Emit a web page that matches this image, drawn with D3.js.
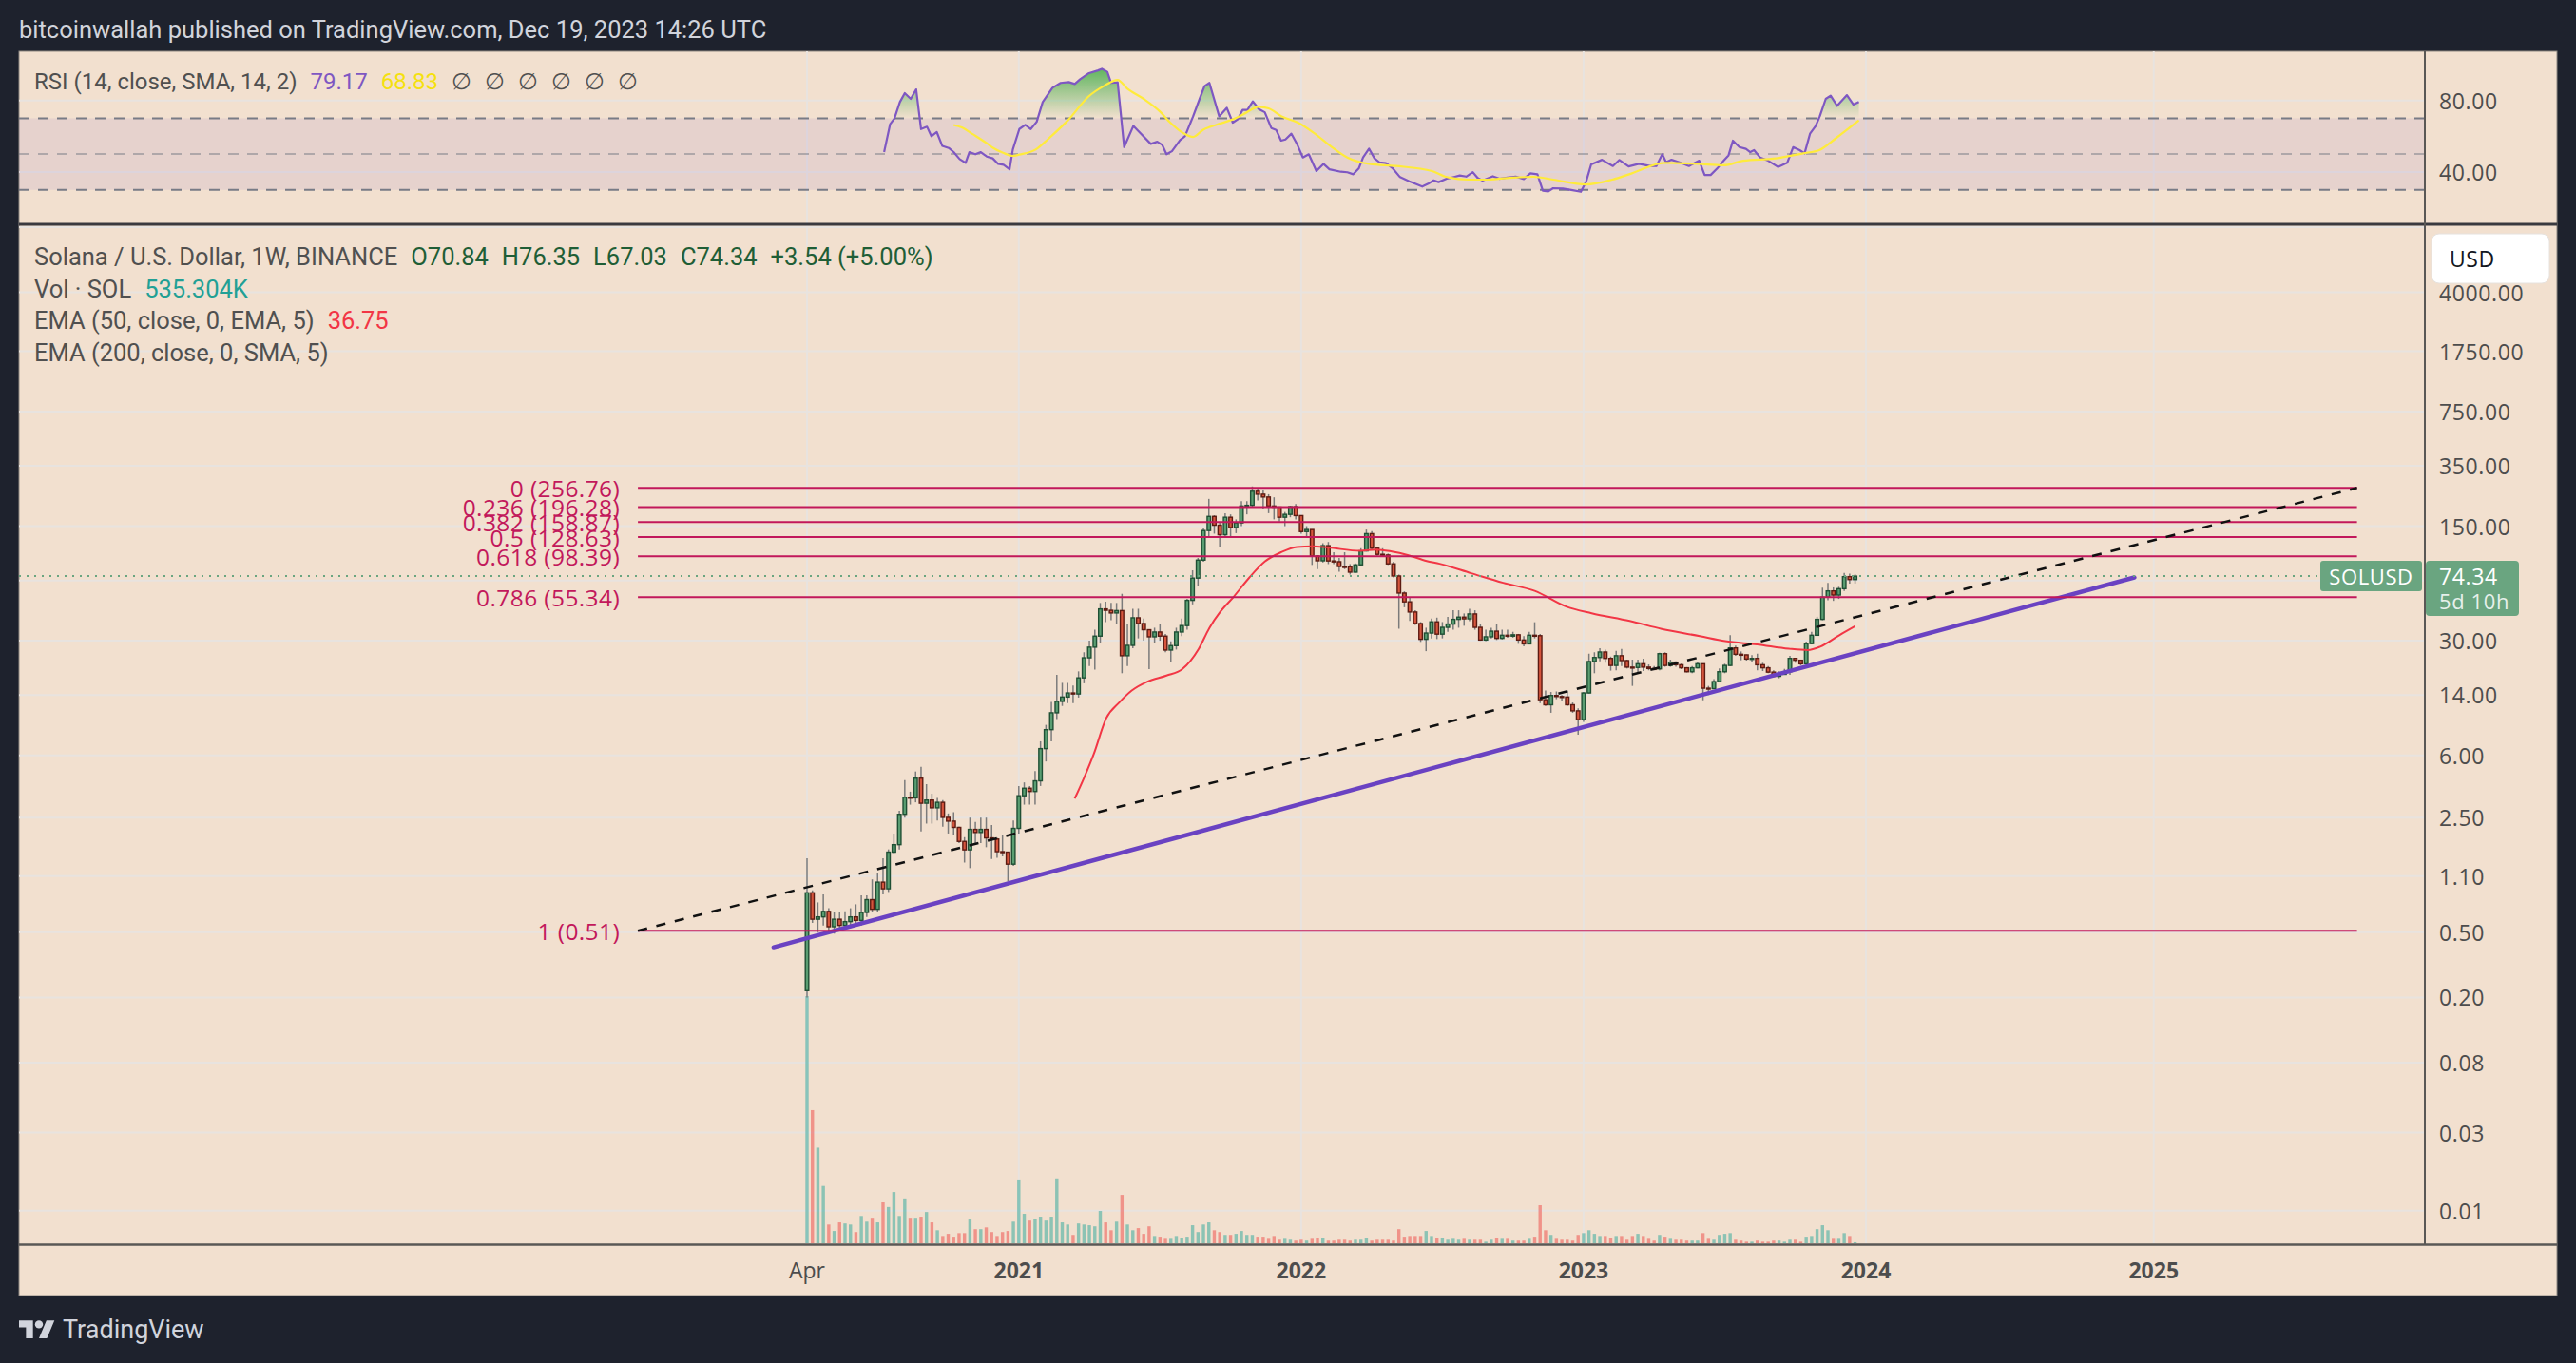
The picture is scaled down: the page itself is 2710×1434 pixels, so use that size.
<!DOCTYPE html>
<html>
<head>
<meta charset="utf-8">
<script src="https://cdn.jsdelivr.net/npm/d3@7"></script>
<style>
  html, body { margin: 0; padding: 0; background: #1e222d; }
  svg { display: block; }
</style>
</head>
<body>
<svg id="chart" width="2710" height="1434"></svg>
<script>
// ---- data (Binance) ----
// first weekly bar opens on 2020-04-06, one value per week after that
const firstBarDate = "2020-04-06";
const firstOpen = 0.22;

const closes = [0.87,0.60,0.62,0.67,0.54,0.60,0.55,0.58,0.62,0.59,0.66,0.79,0.69,1.01,0.92,1.54,1.71,2.62,3.33,3.30,
  4.35,3.06,3.20,2.87,3.10,2.51,2.38,2.18,1.79,1.59,2.12,2.03,2.12,1.88,1.85,1.55,1.54,1.30,2.15,3.40,
  3.78,3.61,4.19,6.59,8.60,10.9,12.8,13.6,14.4,14.2,17.8,23.6,27.4,32.0,46.9,46.0,44.3,45.8,24.3,28.1,
  41.4,38.2,35.0,31.7,33.9,32.0,26.3,28.0,33.9,37.1,52.9,72.3,93.1,141,172,152,133,170,147,157,
  199,201,245,235,226,199,196,170,177,197,174,139,143,98.6,92.2,114,92,91,85.1,84.8,
  78.6,87.1,106,135,110,101,100,88.3,74.5,58.6,51.8,44.9,38.2,30.6,33.4,39.1,32.9,36.2,37.9,40.5,
  41.8,40.8,43.7,36.2,30.3,31.7,34.3,31.0,32.4,32.0,32.6,30.3,28.7,32.4,32.2,13.1,12.2,13.9,13.7,13.6,
  12.2,11.2,9.9,14.4,22.4,23.7,25.6,23.4,21.2,24.3,22.7,20.7,20.6,21.7,20.7,20.3,20.2,25.0,21.2,22.2,
  21.4,20.5,19.4,20.5,21.7,15.4,15.3,16.9,19.4,21.2,27.1,24.8,24.6,23.2,23.4,21.4,20.5,19.3,18.2,18.7,
  19.4,23.4,22.8,21.7,28.8,32.4,40.5,55.3,60.4,57.0,62.3,73.8,70.84,74.34];

const highs = [1.41,0.90,0.76,0.85,0.70,0.66,0.66,0.67,0.70,0.74,0.84,0.84,1.05,1.15,1.41,1.60,2.00,2.75,4.24,3.60,
  4.78,5.10,4.00,3.50,3.30,3.20,2.65,2.70,2.20,1.90,2.50,2.35,2.50,2.50,2.25,1.88,1.95,1.55,2.40,3.90,
  4.10,3.90,4.80,7.30,9.20,12.7,18.6,16.6,16.6,16.0,19.5,25.5,30,35,51,52,51,51,58,38,
  47,47,41,35,36,38,33,29.7,36,41,54,80.7,96,147,220,175,160,180,177,165,
  213,213,262,258,250,235,225,195,183,200,205,175,150,143,100,118,120,104,96,104,
  88,89,110,143,140,112,110,102,91,76,60,55,46,39,36,41,41.5,39,42,46,
  46,44,47,46,38,35,36,38,35,35,34,33,32,34,38.9,33,14.9,14.6,14.7,14.0,
  14.9,12.6,11.6,14.6,25,25.5,27,26.5,24,26,26.7,23,23,23,23.3,21.5,21,25.3,25.5,23,
  22.5,21.7,20.7,21,22.3,21.7,15.9,17.5,20.3,21.7,32.4,28,25.8,24.7,24.5,25,22,21,19.8,19.5,
  20.2,24.3,23.6,23,29.6,34,42,63.2,67.6,63.5,64,77.8,77,76.35];

const lows = [0.20,0.57,0.50,0.55,0.49,0.49,0.52,0.52,0.53,0.54,0.55,0.62,0.66,0.66,0.85,0.88,1.50,1.60,2.50,3.00,
  3.10,2.06,2.30,2.30,2.40,2.20,2.00,1.95,1.75,1.33,1.23,1.75,1.75,1.65,1.40,1.42,1.45,1.02,1.27,2.00,
  3.00,3.00,3.00,3.90,5.50,7.30,10.0,12.0,12.5,12.5,13.5,16.5,21,20,29,39,40,38,19.0,21,
  27,31,30,20.1,29,30,25.5,22.2,26.5,32,35,50,65,91,127,135,112,128,128,136,
  150,177,196,215,190,180,165,160,150,170,165,135,128,87,82,90,88,88,79,82,
  76,78,86,105,107,99,98,87,73,35.5,48,39.6,37.5,29.5,25.9,31,30.7,31,34,35,
  36,37,39.5,35,30,29.8,31,30.3,30.5,31.3,31.3,28.7,27.7,28.5,31,12.5,12.0,10.9,13.2,12.9,
  12.0,10.9,8.0,9.6,14.3,19,22.5,22,19.7,19.8,21,20.3,15.9,18.8,19.6,19.8,19.8,19.8,20.8,20.8,
  20.8,20.1,19.2,19,20.3,13.0,14.0,15.2,16.7,19,21,24.3,22.8,22.7,22.3,19.8,19.6,19,18,17.7,
  18.6,18.6,22,21.2,21.4,28.5,33,40,53,52.5,54,60.4,67,67.03];

// weekly volume, millions of SOL
const volumes = [69.4,37.5,27.0,16.3,5.5,3.7,6.1,5.8,5.5,3.4,7.9,6.3,7.4,6.1,11.7,10.4,14.6,7.9,12.8,7.4,
  7.4,7.7,9.0,6.1,3.9,2.3,2.9,2.1,3.1,3.1,6.9,4.2,4.2,4.7,3.4,2.3,3.4,3.7,6.3,18.1,
  8.5,6.6,7.1,7.7,6.6,7.7,18.4,6.1,5.5,2.6,5.8,5.5,5.3,5.0,9.3,6.1,3.9,6.3,13.8,5.5,
  3.9,4.5,2.9,5.0,2.3,2.1,1.5,1.5,2.3,1.8,2.1,5.3,3.4,5.5,6.1,3.9,3.4,2.6,2.6,2.9,
  3.7,2.6,2.6,2.1,2.1,1.5,2.3,1.25,1.5,1.25,1.0,1.25,1.0,1.5,1.8,1.8,1.0,1.0,1.25,1.25,
  1.0,1.25,1.25,1.8,1.0,1.25,1.25,1.25,1.0,4.2,2.1,2.3,2.3,2.3,3.7,2.3,1.8,1.8,1.25,1.5,
  1.25,1.5,1.25,1.25,1.25,0.7,1.25,1.8,1.5,1.5,1.0,1.0,1.0,1.5,2.1,10.9,3.9,2.6,1.5,1.25,
  1.25,1.0,2.6,3.1,3.9,2.9,2.3,2.3,1.8,2.3,2.3,1.25,2.3,2.9,2.3,1.5,1.0,2.6,2.1,1.5,
  1.25,1.25,1.0,1.0,1.0,3.1,1.5,1.25,2.6,2.9,3.1,1.25,1.0,0.7,0.7,1.0,0.7,0.7,1.0,1.0,
  0.7,1.25,1.25,0.7,2.1,2.3,4.2,5.3,3.9,1.5,1.5,3.1,2.3,0.535];

// EMA 50: [week number, value]
const emaPoints = [[50.3,3.27],[52,4.36],[53.8,6.1],[56.1,10.1],[58.5,12.6],[60.8,14.9],[63.7,16.9],[67.2,18.4],
  [70.1,20.1],[73.1,26.6],[75.1,35.9],[77.1,45],[79.5,55.3],[82.4,72.5],[85.3,91.2],[88.3,104],[91.2,112],
  [94.1,113],[97,111],[102.9,106],[105.8,108],[108.7,105],[111.6,100],[115.1,92],[117.5,88.4],[123.3,77.4],
  [129.2,67.7],[135,60.4],[140.9,48.3],[145.5,44.1],[152.5,39.6],[158.4,35.4],[165.4,32],[170.1,29.8],
  [175.9,28.5],[181.8,26.8],[185.3,26.3],[187.6,27.6],[191.1,32.4],[194,36.75]];

// RSI 14 and its SMA 14: [week number, value]
const rsiPoints = [[15.2,51.1],[16.3,66.7],[17.1,69.9],[18.1,79.1],[19.0,84.1],[20.1,80.9],[21.1,86.2],[22.0,64.0],
  [23.1,65.3],[23.9,60.0],[24.9,62.3],[25.9,54.6],[27.1,53.4],[28.0,51.1],[29.1,47.2],[30.2,45.1],[30.9,51.1],
  [32.0,49.9],[33.0,51.1],[34.1,48.6],[35.2,47.6],[36.2,44.5],[37.2,44.0],[38.3,41.5],[38.9,52.5],[40.1,64.0],
  [41.2,66.3],[42.2,64.0],[43.3,68.1],[44.4,79.1],[46.2,87.1],[47.7,89.8],[49.2,90.3],[50.3,89.2],[51.3,91.9],
  [52.8,95.1],[54.6,96.8],[55.3,97.7],[56.3,96.0],[57.0,89.8],[58.2,90.1],[59.4,53.9],[61.1,65.8],[62.5,61.4],
  [64.3,55.7],[65.5,56.9],[66.4,55.2],[67.2,49.9],[68.2,51.6],[69.7,57.8],[70.6,60.0],[72.1,71.1],[73.3,80.9],
  [74.2,88.0],[75.1,89.8],[76.9,71.1],[78.3,75.9],[79.4,67.6],[80.3,69.4],[81.2,74.7],[82.1,74.7],[83.1,79.5],
  [84.2,75.2],[85.3,73.4],[86.5,64.6],[87.4,63.5],[88.3,57.5],[89.1,58.2],[90.2,61.4],[91.3,55.2],[92.3,48.1],
  [93.4,49.9],[94.8,40.5],[96.1,44.5],[97.2,41.5],[99.3,40.1],[100.5,39.8],[101.6,38.7],[102.6,41.9],[103.4,48.1],
  [104.5,53.0],[105.5,47.6],[106.4,45.4],[107.6,44.9],[108.8,42.2],[110.2,37.1],[111.9,34.8],[114.3,31.8],
  [115.4,33.4],[116.4,35.3],[117.3,34.3],[118.8,36.2],[120.3,37.3],[121.2,38.0],[122.4,37.4],[123.6,39.9],
  [124.5,36.6],[125.4,35.1],[127.3,37.6],[128.5,36.2],[130.0,36.9],[131.5,37.4],[133.0,36.0],[134.2,39.2],
  [135.5,38.7],[136.5,29.5],[137.5,29.1],[138.4,30.9],[140.2,30.7],[142.0,29.8],[143.5,28.9],[144.5,34.8],
  [145.4,44.2],[147.4,46.8],[149.4,43.3],[150.6,46.7],[152.3,43.1],[154.2,44.5],[156.2,43.3],[157.4,43.3],
  [158.5,49.9],[159.2,45.4],[160.2,46.8],[161.9,45.1],[163.4,43.3],[165.3,46.3],[166.3,38.3],[167.4,38.3],
  [168.6,41.9],[169.8,46.3],[170.7,49.3],[171.5,57.5],[172.7,53.9],[173.9,52.9],[174.7,51.1],[175.4,52.2],
  [176.5,48.1],[178.0,46.3],[179.8,42.8],[181.5,45.1],[182.6,53.9],[183.8,52.2],[184.7,50.4],[185.7,61.4],
  [186.7,65.5],[187.5,71.1],[188.6,80.9],[189.5,82.7],[190.7,77.0],[192.5,83.0],[193.7,77.7],[194.7,79.17]];

const rsiMaPoints = [[28.0,66.3],[29.5,64.9],[31.6,61.0],[34.1,56.1],[35.3,53.4],[37.1,50.7],[38.9,49.0],[40.1,49.7],
  [43.1,52.5],[45.5,58.7],[49.2,69.4],[52.8,82.1],[55.8,88.3],[58.2,91.5],[60.0,86.6],[63.0,80.9],[66.0,73.8],
  [67.9,67.6],[70.3,61.7],[72.1,59.6],[73.9,63.5],[76.3,66.3],[79.4,69.4],[81.2,72.0],[84.2,76.5],[86.0,75.6],
  [88.4,71.1],[91.4,67.6],[94.4,61.7],[97.5,54.3],[100.5,48.1],[104.5,44.5],[109.4,43.3],[116.1,40.5],
  [118.5,37.4],[122.7,35.7],[125.7,35.7],[130.0,36.6],[134.8,37.3],[138.4,35.7],[144.5,33.0],[149.3,35.7],
  [152.9,39.2],[158.9,45.1],[165.0,44.5],[169.8,43.7],[173.4,46.3],[179.4,47.6],[184.4,50.4],[187.4,52.2],
  [190.4,58.7],[194.7,68.83]];

// fib retracement drawn between these two anchors
const fibLevels = [0, 0.236, 0.382, 0.5, 0.618, 0.786, 1];
const fibPrices = [256.76, 196.28, 158.87, 128.63, 98.39, 55.34, 0.51];
const fibAnchors = [["2019-09-01", 0.51], ["2025-09-25", 256.76]];
const trendLine = [["2020-02-23", 0.405], ["2024-12-12", 73]];

const priceTicks = [4000, 1750, 750, 350, 150, 70, 30, 14, 6, 2.5, 1.1, 0.5, 0.2, 0.08, 0.03, 0.01];
const rsiTicks = [80, 40];
const rsiBands = [70, 50, 30];
const timeTicks = [["2020-04-06", "Apr"], ["2021-01-04", "2021"], ["2022-01-03", "2022"],
  ["2023-01-02", "2023"], ["2024-01-01", "2024"], ["2025-01-06", "2025"]];

const lastPrice = 74.34;

// ---- layout ----
const config = {
  left: 20, right: 2690, top: 54, bottom: 1363,
  plotRight: 2551,
  rsiTop: 54, rsiBottom: 235,
  mainTop: 237, mainBottom: 1308
};

const colors = {
  bg: "#1e222d", panel: "#f2e0cf", grid: "#e8e3df",
  upFill: "#5a9e72", upLine: "#1f4f34", downFill: "#d6553d", downLine: "#5c1b12", wick: "#7b7b7b",
  volUp: "rgba(38,166,154,0.5)", volDown: "rgba(239,83,80,0.55)",
  fib: "#c2185b", ema: "#f23645", trend: "#6a42c2", rsi: "#7e57c2", rsiMa: "#ffeb3b",
  label: "#6aa580", text: "#505050", axisText: "#4d4d4d"
};

const axisFont = "'Open Sans', 'DejaVu Sans', sans-serif";
const legendFont = "Roboto, 'Noto Sans', sans-serif";

const svg = d3.select("#chart");
const defs = svg.append("defs");

const parse = d3.utcParse("%Y-%m-%d");
const firstMs = parse(firstBarDate).getTime();
function weekDate(n) { return new Date(firstMs + (n - 1) * 7 * 864e5); }

// bar positions line up with the time axis labels
let x = d3.scaleUtc()
  .domain([parse("2020-04-06"), parse("2024-01-01")])
  .range([849, 1963]);

let y = d3.scaleLog().domain([0.01, 4000]).range([1273.8, 307.6]);
let rsiY = d3.scaleLinear().domain([30, 80]).range([199.7, 105.7]);
let volY = d3.scaleLinear().domain([0, d3.max(volumes)]).range([config.mainBottom + 1, 1048]);

let bars = closes.map((c, i) => ({
  date: weekDate(i + 1),
  open: i ? closes[i - 1] : firstOpen,
  high: highs[i],
  low: lows[i],
  close: c,
  volume: volumes[i]
}));

// ---- background and frame ----
svg.append("rect").attr("width", 2710).attr("height", 1434).attr("fill", colors.bg);
svg.append("rect")
  .attr("x", config.left).attr("y", config.top)
  .attr("width", config.right - config.left).attr("height", config.bottom - config.top)
  .attr("fill", colors.panel).attr("stroke", "#8d8882").attr("stroke-width", 1);

svg.append("text")
  .attr("x", 20).attr("y", 31)
  .attr("dominant-baseline", "central")
  .attr("font-family", legendFont).attr("font-size", 25.5)
  .attr("fill", "#d1d4dc")
  .text("bitcoinwallah published on TradingView.com, Dec 19, 2023 14:26 UTC");

function addClip(id, x0, y0, x1, y1) {
  defs.append("clipPath").attr("id", id).append("rect")
    .attr("x", x0).attr("y", y0).attr("width", x1 - x0).attr("height", y1 - y0);
}
addClip("clipMain", config.left, config.mainTop, config.plotRight, config.mainBottom);
addClip("clipRsi", config.left, config.rsiTop, config.plotRight, config.rsiBottom);

// ---- grid ----
let grid = svg.append("g");
timeTicks.forEach(t => {
  let gx = x(parse(t[0]));
  grid.append("line").attr("x1", gx).attr("x2", gx)
    .attr("y1", config.rsiTop).attr("y2", config.mainBottom)
    .attr("stroke", colors.grid).attr("stroke-width", 2);
});
priceTicks.forEach(p => {
  grid.append("line").attr("x1", config.left).attr("x2", config.plotRight)
    .attr("y1", y(p)).attr("y2", y(p))
    .attr("stroke", colors.grid).attr("stroke-width", 2);
});
grid.append("line").attr("x1", config.left).attr("x2", config.plotRight)
  .attr("y1", y(10000)).attr("y2", y(10000))
  .attr("stroke", colors.grid).attr("stroke-width", 2);
rsiTicks.forEach(v => {
  grid.append("line").attr("x1", config.left).attr("x2", config.plotRight)
    .attr("y1", rsiY(v)).attr("y2", rsiY(v))
    .attr("stroke", colors.grid).attr("stroke-width", 2);
});

// ---- RSI pane ----
let rsiG = svg.append("g").attr("clip-path", "url(#clipRsi)");
rsiG.append("rect")
  .attr("x", config.left).attr("y", rsiY(70))
  .attr("width", config.plotRight - config.left).attr("height", rsiY(30) - rsiY(70))
  .attr("fill", "rgba(126,87,194,0.1)");
rsiBands.forEach(v => {
  rsiG.append("line").attr("x1", config.left).attr("x2", config.plotRight)
    .attr("y1", rsiY(v)).attr("y2", rsiY(v))
    .attr("stroke", "#787b86").attr("stroke-opacity", v === 50 ? 0.5 : 1)
    .attr("stroke-width", 2).attr("stroke-dasharray", "11,9");
});

let grad = defs.append("linearGradient").attr("id", "obFill")
  .attr("gradientUnits", "userSpaceOnUse")
  .attr("x1", 0).attr("x2", 0).attr("y1", rsiY(100)).attr("y2", rsiY(70));
grad.append("stop").attr("offset", 0).attr("stop-color", "#4caf50").attr("stop-opacity", 0.95);
grad.append("stop").attr("offset", 1).attr("stop-color", "#4caf50").attr("stop-opacity", 0);
addClip("clipOb", config.left, config.rsiTop, config.plotRight, rsiY(70));

let wx = d => x(weekDate(d[0]));
rsiG.append("path").datum(rsiPoints)
  .attr("clip-path", "url(#clipOb)")
  .attr("fill", "url(#obFill)")
  .attr("d", d3.area().x(wx).y0(rsiY(70)).y1(d => rsiY(d[1])));
rsiG.append("path").datum(rsiPoints)
  .attr("fill", "none").attr("stroke", colors.rsi).attr("stroke-width", 2.2)
  .attr("stroke-linejoin", "round")
  .attr("d", d3.line().x(wx).y(d => rsiY(d[1])));
rsiG.append("path").datum(rsiMaPoints)
  .attr("fill", "none").attr("stroke", colors.rsiMa).attr("stroke-width", 2.2)
  .attr("d", d3.line().x(wx).y(d => rsiY(d[1])).curve(d3.curveMonotoneX));

let rsiLegend = svg.append("text")
  .attr("x", 36).attr("y", 86).attr("dominant-baseline", "central")
  .attr("font-family", legendFont).attr("font-size", 24).attr("fill", colors.text);
rsiLegend.append("tspan").text("RSI (14, close, SMA, 14, 2)");
rsiLegend.append("tspan").attr("dx", 14).attr("fill", colors.rsi).text("79.17");
rsiLegend.append("tspan").attr("dx", 14).attr("fill", "#f5e10f").text("68.83");
rsiLegend.append("tspan").attr("dx", 14).attr("word-spacing", 8).text("\u2205 \u2205 \u2205 \u2205 \u2205 \u2205");

// ---- main pane ----
let main = svg.append("g").attr("clip-path", "url(#clipMain)");

// volume
main.append("g").selectAll("rect")
  .data(bars)
  .join("rect")
  .attr("x", d => x(d.date) - 1.7)
  .attr("width", 3.4)
  .attr("y", d => volY(d.volume))
  .attr("height", d => volY(0) - volY(d.volume))
  .attr("fill", d => d.close >= d.open ? colors.volUp : colors.volDown);

// candles
function updateCandle(d) {
  let g = d3.select(this);
  let up = d.close >= d.open;
  let cx = x(d.date);
  if (g.selectAll("*").empty()) {
    g.append("line").classed("wick", true);
    g.append("rect").classed("body", true);
  }
  g.select(".wick")
    .attr("x1", cx).attr("x2", cx)
    .attr("y1", y(d.high)).attr("y2", y(d.low))
    .attr("stroke", colors.wick).attr("stroke-width", 1.5);
  let top = y(Math.max(d.open, d.close));
  let h = Math.max(1, Math.abs(y(d.open) - y(d.close)));
  g.select(".body")
    .attr("x", cx - 1.8).attr("width", 3.6)
    .attr("y", top).attr("height", h)
    .attr("fill", up ? colors.upFill : colors.downFill)
    .attr("stroke", up ? colors.upLine : colors.downLine)
    .attr("stroke-width", 1.4);
}
main.append("g").selectAll("g")
  .data(bars)
  .join("g")
  .each(updateCandle);

// EMA 50
main.append("path").datum(emaPoints)
  .attr("fill", "none").attr("stroke", colors.ema).attr("stroke-width", 2)
  .attr("d", d3.line().x(wx).y(d => y(d[1])).curve(d3.curveMonotoneX));

// fib retracement
let fibX0 = x(parse(fibAnchors[0][0]));
let fibX1 = x(parse(fibAnchors[1][0]));
let fibG = svg.append("g");
fibPrices.forEach((p, i) => {
  fibG.append("line")
    .attr("x1", fibX0).attr("x2", fibX1)
    .attr("y1", y(p)).attr("y2", y(p))
    .attr("stroke", colors.fib).attr("stroke-width", 2);
  fibG.append("text")
    .attr("x", fibX0 - 19).attr("y", y(p))
    .attr("text-anchor", "end").attr("dominant-baseline", "central")
    .attr("font-family", axisFont).attr("font-size", 24.5).attr("letter-spacing", 0.4)
    .attr("fill", colors.fib)
    .text(`${fibLevels[i]} (${p.toFixed(2)})`);
});
fibG.append("line")
  .attr("x1", fibX0).attr("y1", y(fibAnchors[0][1]))
  .attr("x2", fibX1).attr("y2", y(fibAnchors[1][1]))
  .attr("stroke", "#111").attr("stroke-width", 2.5).attr("stroke-dasharray", "10,10");

// rising support line
main.append("line")
  .attr("x1", x(parse(trendLine[0][0]))).attr("y1", y(trendLine[0][1]))
  .attr("x2", x(parse(trendLine[1][0]))).attr("y2", y(trendLine[1][1]))
  .attr("stroke", colors.trend).attr("stroke-width", 4.5).attr("stroke-linecap", "round");

// last price line
svg.append("line")
  .attr("x1", config.left).attr("x2", 2441)
  .attr("y1", y(lastPrice)).attr("y2", y(lastPrice))
  .attr("stroke", colors.label).attr("stroke-width", 2).attr("stroke-dasharray", "2,6");

// legend
const legendRows = [
  [["Solana / U.S. Dollar, 1W, BINANCE", colors.text], ["O70.84", "#1f5e36"], ["H76.35", "#1f5e36"],
   ["L67.03", "#1f5e36"], ["C74.34", "#1f5e36"], ["+3.54 (+5.00%)", "#1f5e36"]],
  [["Vol \u00b7 SOL", colors.text], ["535.304K", "#22a095"]],
  [["EMA (50, close, 0, EMA, 5)", colors.text], ["36.75", colors.ema]],
  [["EMA (200, close, 0, SMA, 5)", colors.text]]
];
legendRows.forEach((row, i) => {
  let t = svg.append("text")
    .attr("x", 36).attr("y", 270 + i * 33.5).attr("dominant-baseline", "central")
    .attr("font-family", legendFont).attr("font-size", 25.5);
  row.forEach((part, j) => {
    t.append("tspan").attr("dx", j ? 14 : 0).attr("fill", part[1]).text(part[0]);
  });
});

// ---- separators ----
svg.append("line").attr("x1", config.left).attr("x2", config.right)
  .attr("y1", 236).attr("y2", 236).attr("stroke", "#3a3a40").attr("stroke-width", 3);
svg.append("line").attr("x1", config.plotRight).attr("x2", config.plotRight)
  .attr("y1", config.top).attr("y2", config.mainBottom + 1)
  .attr("stroke", "#5a5856").attr("stroke-width", 2);
svg.append("line").attr("x1", config.left).attr("x2", config.right)
  .attr("y1", 1309.5).attr("y2", 1309.5).attr("stroke", "#5a5856").attr("stroke-width", 2.5);

// ---- price axis ----
let axisG = svg.append("g")
  .attr("font-family", axisFont).attr("font-size", 23).attr("letter-spacing", 0.6)
  .attr("fill", colors.axisText).attr("dominant-baseline", "central");
priceTicks.forEach(p => {
  axisG.append("text").attr("x", 2566).attr("y", y(p)).text(p.toFixed(2));
});
rsiTicks.forEach(v => {
  axisG.append("text").attr("x", 2566).attr("y", rsiY(v)).text(v.toFixed(2));
});

svg.append("rect")
  .attr("x", 2558).attr("y", 246).attr("width", 124).attr("height", 52).attr("rx", 8)
  .attr("fill", "#ffffff").attr("stroke", "#e6e2de");
svg.append("text")
  .attr("x", 2577).attr("y", 272).attr("dominant-baseline", "central")
  .attr("font-family", axisFont).attr("font-size", 23).attr("letter-spacing", 0.6)
  .attr("fill", "#131722").text("USD");

// symbol + price labels
let ly = y(lastPrice);
svg.append("rect")
  .attr("x", 2441).attr("y", ly - 16).attr("width", 107).attr("height", 32).attr("rx", 3)
  .attr("fill", colors.label);
svg.append("text")
  .attr("x", 2494.5).attr("y", ly).attr("text-anchor", "middle").attr("dominant-baseline", "central")
  .attr("font-family", axisFont).attr("font-size", 22).attr("letter-spacing", 0.6)
  .attr("fill", "#ffffff").text("SOLUSD");
svg.append("rect")
  .attr("x", 2552).attr("y", ly - 16).attr("width", 98).attr("height", 58).attr("rx", 4)
  .attr("fill", colors.label);
svg.append("text")
  .attr("x", 2566).attr("y", ly).attr("dominant-baseline", "central")
  .attr("font-family", axisFont).attr("font-size", 23).attr("letter-spacing", 0.6)
  .attr("fill", "#ffffff").text(lastPrice.toFixed(2));
svg.append("text")
  .attr("x", 2566).attr("y", ly + 26).attr("dominant-baseline", "central")
  .attr("font-family", axisFont).attr("font-size", 22).attr("letter-spacing", 0.6)
  .attr("fill", "rgba(255,255,255,0.85)").text("5d 10h");

// ---- time axis ----
timeTicks.forEach(t => {
  svg.append("text")
    .attr("x", x(parse(t[0]))).attr("y", 1336)
    .attr("text-anchor", "middle").attr("dominant-baseline", "central")
    .attr("font-family", axisFont).attr("font-size", 23)
    .attr("font-weight", t[1] === "Apr" ? 400 : 700)
    .attr("fill", colors.axisText)
    .text(t[1]);
});

// ---- footer logo ----
let logo = svg.append("g").attr("transform", "translate(20,1385) scale(1.05)").attr("fill", "#d1d4dc");
logo.append("path").attr("d", "M14 22H7V11H0V4h14v18zM28 22h-8l7.5-18h8L28 22z");
logo.append("circle").attr("cx", 20).attr("cy", 8).attr("r", 4);
svg.append("text")
  .attr("x", 66).attr("y", 1399).attr("dominant-baseline", "central")
  .attr("font-family", legendFont).attr("font-size", 27).attr("fill", "#d1d4dc")
  .text("TradingView");
</script>
</body>
</html>
